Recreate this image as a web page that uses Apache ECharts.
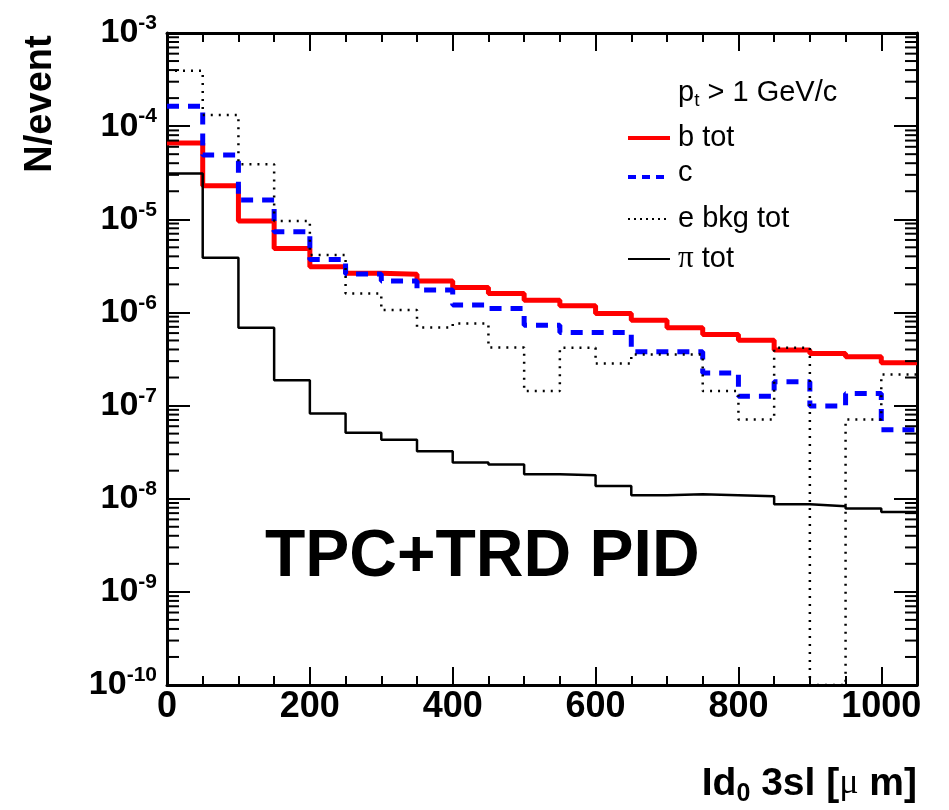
<!DOCTYPE html>
<html><head><meta charset="utf-8">
<script src="https://cdn.jsdelivr.net/npm/echarts@6/dist/echarts.min.js"></script>
<style>html,body{margin:0;padding:0;background:#fff}#c{width:949px;height:810px}</style>
</head><body><div id="c"></div>
<script>
// bin left edges (µm), bin width 50, axis ends at 1050
const binEdges = [0,50,100,150,200,250,300,350,400,450,500,550,600,650,700,750,800,850,900,950,1000];
const xMax = 1050;
const yMin = 1e-10, yMax = 1e-3;

// N/event per bin
const bTot = [6.6e-5, 2.29e-5, 9.6e-6, 4.87e-6, 3.09e-6, 2.63e-6, 2.57e-6, 2.17e-6, 1.85e-6, 1.6e-6,
              1.35e-6, 1.18e-6, 9.75e-7, 8.26e-7, 6.84e-7, 5.8e-7, 5.04e-7, 3.94e-7, 3.63e-7, 3.34e-7, 2.88e-7];
const cVals = [1.64e-4, 4.9e-5, 1.61e-5, 7.34e-6, 3.71e-6, 2.58e-6, 2.17e-6, 1.74e-6, 1.2e-6, 1.1e-6,
               7.3e-7, 6.1e-7, 6.1e-7, 3.78e-7, 3.78e-7, 2.24e-7, 1.26e-7, 1.8e-7, 9.9e-8, 1.35e-7, 5.5e-8];
const eBkgTot = [3.94e-4, 1.32e-4, 3.9e-5, 9.6e-6, 4.13e-6, 1.6e-6, 1.06e-6, 6.9e-7, 7.6e-7, 4.2e-7,
                 1.43e-7, 4.17e-7, 2.83e-7, 3.54e-7, 3.54e-7, 1.43e-7, 7.1e-8, 4.17e-7, 0, 7.1e-8, 2.15e-7];
const piTot = [3.1e-5, 3.87e-6, 6.84e-7, 1.87e-7, 8.2e-8, 5.1e-8, 4.3e-8, 3.24e-8, 2.45e-8, 2.33e-8,
               1.83e-8, 1.79e-8, 1.37e-8, 1.09e-8, 1.12e-8, 1.09e-8, 1.06e-8, 8.7e-9, 8.3e-9, 7.85e-9, 7.2e-9];

const seriesNames = ['b tot', 'c', 'e bkg tot', '\u03c0 tot'];
const minorMantissas = [2,3,4,5,6,7,8,9];
const decadeExps = [-10,-9,-8,-7,-6,-5,-4];

const FONT = "'Liberation Sans', Arial, Helvetica, sans-serif";
const SERIF = "'Liberation Serif', 'DejaVu Serif', serif";

function histData(vals) {
  const d = binEdges.map((x, i) => [x, vals[i] > 0 ? vals[i] : yMin]);
  d.push([xMax, d[d.length - 1][1]]);
  return d;
}
const minorTickVals = [];
decadeExps.forEach(e => minorMantissas.forEach(m => minorTickVals.push([0, m * Math.pow(10, e)])));

const chart = echarts.init(document.getElementById('c'), null, {renderer: 'canvas'});
const grid = {left: 167, right: 32, top: 33, bottom: 125, containLabel: false};
const lineCol = '#000';

function xAx(pos, interval, len, labels, lineShow) {
  return {
    type: 'value', position: pos, min: 0, max: xMax, interval: interval,
    axisLine: {show: lineShow, onZero: false, lineStyle: {color: lineCol, width: 3}},
    axisTick: {show: true, inside: true, length: len, lineStyle: {color: lineCol, width: 2}},
    axisLabel: labels ? {show: true, showMaxLabel: false, margin: 4, fontSize: 36, fontWeight: 'bold',
                         fontFamily: FONT, color: '#000', formatter: v => String(Math.round(v))} : {show: false},
    splitLine: {show: false}
  };
}
function yAx(pos, labels) {
  return {
    type: 'log', logBase: 10, position: pos, min: yMin, max: yMax, interval: 1, splitNumber: 7,
    axisLine: {show: true, onZero: false, lineStyle: {color: lineCol, width: 3}},
    axisTick: {show: true, inside: true, length: 23, lineStyle: {color: lineCol, width: 2}},
    axisLabel: labels ? {
      show: true, margin: 10, color: '#000',
      formatter: v => '{b|10}{s|' + Math.round(Math.log10(v)) + '}',
      rich: {
        b: {fontSize: 34, fontWeight: 'bold', fontFamily: FONT, color: '#000', lineHeight: 40},
        s: {fontSize: 21, fontWeight: 'bold', fontFamily: FONT, color: '#000', lineHeight: 21, verticalAlign: 'top'}
      }
    } : {show: false},
    splitLine: {show: false}, minorTick: {show: false}
  };
}

const styles = [
  {color: '#ff0000', width: 5, type: 'solid'},
  {color: '#0000ff', width: 5, type: [12, 9]},
  {color: '#000000', width: 2.5, type: [2, 6]},
  {color: '#000000', width: 2.5, type: 'solid'}
];
const allVals = [bTot, cVals, eBkgTot, piTot];

const series = allVals.map((vals, i) => ({
  name: seriesNames[i], type: 'line', step: 'end', data: histData(vals),
  symbol: 'none', silent: true, clip: true,
  lineStyle: {color: styles[i].color, width: styles[i].width, type: styles[i].type, cap: 'butt'},
  z: 3 + i
}));
series.push({
  type: 'custom', silent: true, data: minorTickVals, z: 10, clip: false,
  renderItem: (params, api) => {
    const v = api.value(1);
    const pl = api.coord([0, v]);
    const pr = api.coord([xMax, v]);
    const st = {stroke: '#000', lineWidth: 2};
    return {type: 'group', children: [
      {type: 'line', shape: {x1: pl[0], y1: pl[1], x2: pl[0] + 12, y2: pl[1]}, style: st},
      {type: 'line', shape: {x1: pr[0], y1: pr[1], x2: pr[0] - 12, y2: pr[1]}, style: st}
    ]};
  }
});

// legend graphics
const legX1 = 628, legX2 = 670, legTX = 678;
const legYs = [138, 177, 219, 259];
const graphic = [];
legYs.forEach((y, i) => {
  const lt = styles[i].type;
  graphic.push({type: 'line', shape: {x1: legX1, y1: y, x2: legX2, y2: y},
    style: {stroke: styles[i].color, lineWidth: i < 2 ? 4 : 2, lineDash: Array.isArray(lt) ? (i === 1 ? [8, 6] : [2, 4]) : null}});
});
graphic.push({type: 'text', x: legTX, y: 93, style: {
  text: '{n|p}{t|t}{n| > 1 GeV/c}', verticalAlign: 'middle', align: 'left',
  rich: {n: {fontSize: 29, fontFamily: FONT, lineHeight: 34, fill: '#000'},
         t: {fontSize: 19, fontFamily: FONT, lineHeight: 6, verticalAlign: 'bottom', fill: '#000'}}}});
graphic.push({type: 'text', x: legTX, y: legYs[0], style: {text: 'b tot', font: '29px ' + FONT, fill: '#000', verticalAlign: 'middle'}});
graphic.push({type: 'text', x: legTX, y: legYs[1] - 4, style: {text: 'c', font: '29px ' + FONT, fill: '#000', verticalAlign: 'middle'}});
graphic.push({type: 'text', x: legTX, y: legYs[2], style: {text: 'e bkg tot', font: '29px ' + FONT, fill: '#000', verticalAlign: 'middle'}});
graphic.push({type: 'text', x: legTX, y: legYs[3], style: {
  text: '{p|\u03c0}{n| tot}', verticalAlign: 'middle',
  rich: {p: {fontSize: 31, fontFamily: SERIF, fill: '#000'}, n: {fontSize: 29, fontFamily: FONT, fill: '#000'}}}});
// big label
graphic.push({type: 'text', x: 265, y: 558, style: {text: 'TPC+TRD PID', font: 'bold 66px ' + FONT, fill: '#000', verticalAlign: 'middle'}});
// y title
graphic.push({type: 'text', x: 41, y: 104, rotation: Math.PI / 2, style: {text: 'N/event', font: 'bold 38px ' + FONT, fill: '#000', align: 'center', verticalAlign: 'middle'}});
// x title
graphic.push({type: 'text', x: 917, y: 784, style: {
  text: '{n|Id}{s|0}{n| 3sl [}{m|\u03bc}{n| m]}', align: 'right', verticalAlign: 'middle',
  rich: {n: {fontSize: 39, fontWeight: 'bold', fontFamily: FONT, lineHeight: 46, fill: '#000'},
         s: {fontSize: 25, fontWeight: 'bold', fontFamily: FONT, lineHeight: 8, verticalAlign: 'bottom', fill: '#000'},
         m: {fontSize: 36, fontFamily: SERIF, fill: '#000', lineHeight: 46}}}});

chart.setOption({
  animation: false,
  backgroundColor: '#fff',
  grid: grid,
  xAxis: [xAx('bottom', 200, 18, true, true), xAx('bottom', 50, 9, false, false),
          xAx('top', 200, 18, false, true), xAx('top', 50, 9, false, false)],
  yAxis: [yAx('left', true), yAx('right', false)],
  series: series,
  graphic: graphic
});
</script></body></html>
